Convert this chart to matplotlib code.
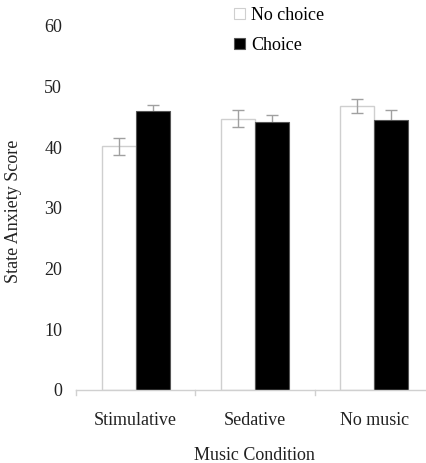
import matplotlib
matplotlib.use("Agg")
import matplotlib.pyplot as plt
import numpy as np

categories = ["Stimulative", "Sedative", "No music"]
no_choice = [40.2, 44.7, 46.8]
no_choice_err = [1.4, 1.4, 1.2]
choice = [46.0, 44.1, 44.5]
choice_err = [1.0, 1.3, 1.6]
series_labels = ["No choice", "Choice"]
yticks = [0, 10, 20, 30, 40, 50, 60]

plt.rcParams['font.family'] = ['Liberation Serif', 'DejaVu Serif']
FS = 13

W, H = 427, 463
fig = plt.figure(figsize=(W / 100, H / 100), dpi=100)
x0, x1 = 76, 434
y0, y1 = 390, 26
ax = fig.add_axes([x0 / W, (H - y0) / H, (x1 - x0) / W, (y0 - y1) / H])

x = np.arange(len(categories))
bw = 0.285
b1 = ax.bar(x - bw / 2, no_choice, bw, color="white", edgecolor="#cfcfcf", linewidth=1.0,
            label=series_labels[0], zorder=2)
ax.errorbar(x - bw / 2, no_choice, yerr=no_choice_err, fmt="none", ecolor="#a0a0a0",
            elinewidth=1.0, capsize=4, capthick=1.0, zorder=3)
b2 = ax.bar(x + bw / 2, choice, bw, color="black", edgecolor="#555555", linewidth=0.8,
            label=series_labels[1], zorder=2)
ax.errorbar(x + bw / 2, choice, yerr=choice_err, fmt="none", ecolor="#a0a0a0",
            elinewidth=1.0, capsize=4, capthick=1.0, zorder=1)

ax.set_xlim(-0.5, len(categories) - 0.5)
ax.set_ylim(0, 60)
ax.set_yticks(yticks)
ax.set_yticklabels([str(v) for v in yticks], fontsize=FS)
ax.tick_params(axis="y", length=0, pad=10, colors="#222222")

ax.set_xticks(x)
ax.set_xticklabels(categories, fontsize=FS)
ax.tick_params(axis="x", length=0, pad=16, colors="#222222")
for b in [-0.5, 0.5, 1.5, 2.5]:
    ax.plot([b, b], [0, -0.013], transform=ax.get_xaxis_transform(), color="#d0d0d0",
            lw=1.0, clip_on=False)

for s in ["top", "right", "left"]:
    ax.spines[s].set_visible(False)
ax.spines["bottom"].set_color("#d0d0d0")
ax.spines["bottom"].set_linewidth(1.0)

fig.text(14 / W, (H - 211) / H, "State Anxiety Score", fontsize=FS, rotation=90,
         ha="center", va="center", color="#222222")
fig.text(254 / W, (H - 455) / H, "Music Condition", fontsize=FS,
         ha="center", va="center", color="#222222")

leg = fig.legend(handles=[b1, b2], labels=series_labels, loc="upper left",
                 bbox_to_anchor=(234 / W, 1 - 7 / H), frameon=False, fontsize=FS,
                 handlelength=0.6, handleheight=0.6, handletextpad=0.35, labelspacing=0.7,
                 borderaxespad=0, borderpad=0)
for h in leg.legend_handles:
    h.set_linewidth(0.8)

fig.savefig("out.png", dpi=100)
